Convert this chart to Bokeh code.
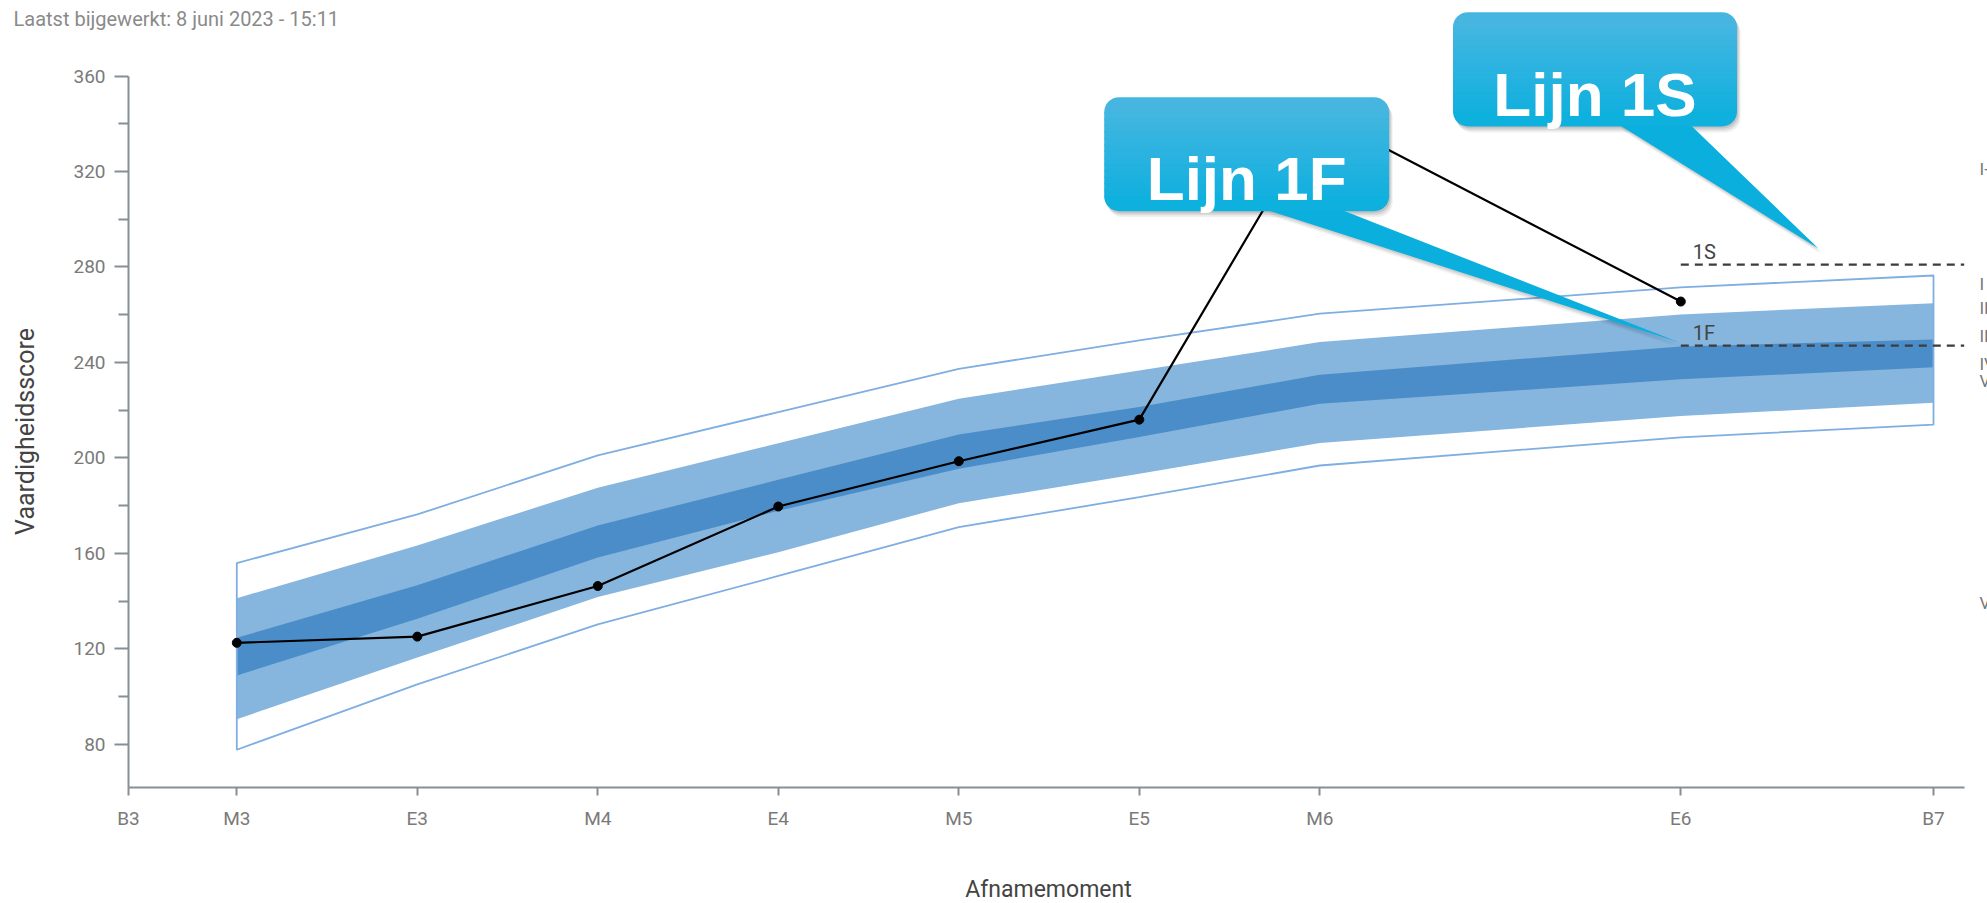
import numpy as np
from bokeh.plotting import figure
from bokeh.models import Range1d, FixedTicker, Label, BoxAnnotation, PolyAnnotation
from bokeh.core.properties import value
from bokeh.embed import file_html
from bokeh.resources import INLINE

# ---------------- data ----------------
MOMENTS = ["B3", "M3", "E3", "M4", "E4", "M5", "E5", "M6", "E6", "B7"]
MOMENT_POS = [0.0, 0.6, 1.6, 2.6, 3.6, 4.6, 5.6, 6.6, 8.6, 10.0]

BAND_MOMENTS = ["M3", "E3", "M4", "E4", "M5", "E5", "M6", "E6", "B7"]
OUTER_TOP = [155.9, 176.3, 201.0, 219.2, 237.3, 249.2, 260.4, 271.4, 276.4]
LIGHT_TOP = [141.2, 163.3, 187.5, 206.1, 224.8, 236.6, 248.5, 260.1, 264.8]
DARK_TOP = [124.6, 146.6, 171.7, 190.8, 209.8, 221.3, 234.8, 246.7, 249.6]
DARK_BOTTOM = [108.8, 132.6, 158.2, 177.8, 195.4, 208.7, 222.7, 232.9, 238.0]
LIGHT_BOTTOM = [90.5, 116.3, 141.7, 160.5, 181.0, 193.3, 206.2, 217.5, 223.1]
OUTER_BOTTOM = [77.7, 105.1, 130.2, 150.5, 171.0, 183.5, 196.8, 208.6, 213.9]

STUDENT_MOMENTS = ["M3", "E3", "M4", "E4", "M5", "E5", "M6", "E6"]
STUDENT_SCORES = [122.5, 125.1, 146.3, 179.6, 198.6, 216.0, 344.0, 265.5]

REF_NAMES = ["1S", "1F"]
REF_VALUES = [281.0, 247.0]
REF_START = "E6"

Y_TICKS = [80, 120, 160, 200, 240, 280, 320, 360]
Y_MINOR = [100, 140, 180, 220, 260, 300, 340]
LEVEL_LABELS = ["I+", "I", "II", "III", "IV", "V", "V-"]

TITLE = "Laatst bijgewerkt: 8 juni 2023 - 15:11"
Y_LABEL = "Vaardigheidsscore"
X_LABEL = "Afnamemoment"
CALLOUT_TEXTS = ["Lijn 1F", "Lijn 1S"]

# ---------------- layout / style ----------------
FONT = "Roboto"
FIG_W, FIG_H = 1987, 903
PXX = 180.5            # px per x unit
PXY = 2.3866           # px per y unit
X_ORIGIN_PAGE = 128.0  # page x of B3 (y axis)
Y360_PAGE = 75.5       # page y of score 360
Y_AXIS_MIN = 62.0
X_AXIS_END = 10.17

X0 = -X_ORIGIN_PAGE / PXX
X1 = (FIG_W - X_ORIGIN_PAGE) / PXX
Y1 = 360 + Y360_PAGE / PXY
Y0 = 360 - (FIG_H - Y360_PAGE) / PXY

OUTER_LINE = "#7eaee2"
LIGHT = "#86b5de"
DARK = "#4a8dc9"


def px2x(px):
    return (px - X_ORIGIN_PAGE) / PXX


def py2y(py):
    return 360 - (py - Y360_PAGE) / PXY


p = figure(width=FIG_W, height=FIG_H, x_range=Range1d(X0, X1), y_range=Range1d(Y0, Y1),
           output_backend="svg", toolbar_location=None, title=None,
           min_border_left=0, min_border_right=0, min_border_top=0, min_border_bottom=0)
p.outline_line_color = None
p.grid.visible = False
p.background_fill_color = "white"

AX_COL = "#858f95"
for ax in (p.xaxis[0], p.yaxis[0]):
    ax.axis_line_color = AX_COL
    ax.axis_line_width = 2
    ax.major_tick_line_color = AX_COL
    ax.major_tick_line_width = 2
    ax.minor_tick_line_color = AX_COL
    ax.minor_tick_line_width = 2
    ax.major_tick_in = 0
    ax.minor_tick_in = 0
    ax.major_label_text_font = FONT
    ax.major_label_text_font_size = "19px"
    ax.major_label_text_color = "#7a7a7a"

p.xaxis.ticker = FixedTicker(ticks=MOMENT_POS, minor_ticks=[])
p.xaxis.major_label_overrides = {pos: lab for pos, lab in zip(MOMENT_POS, MOMENTS)}
p.xaxis.bounds = (0, X_AXIS_END)
p.xaxis.fixed_location = Y_AXIS_MIN
p.xaxis.major_tick_out = 8
p.xaxis.major_label_standoff = 12

p.yaxis.ticker = FixedTicker(ticks=Y_TICKS, minor_ticks=Y_MINOR)
p.yaxis.bounds = (Y_AXIS_MIN, 360)
p.yaxis.fixed_location = 0
p.yaxis.major_tick_out = 14
p.yaxis.minor_tick_out = 10
p.yaxis.major_label_standoff = 9

pos_of = dict(zip(MOMENTS, MOMENT_POS))
bx = [pos_of[m] for m in BAND_MOMENTS]

# bands
p.patch(bx + bx[::-1], OUTER_TOP + OUTER_BOTTOM[::-1], fill_color="white", line_color=None)
p.varea(x=bx, y1=LIGHT_BOTTOM, y2=LIGHT_TOP, fill_color=LIGHT)
p.varea(x=bx, y1=DARK_BOTTOM, y2=DARK_TOP, fill_color=DARK)
p.patch(bx + bx[::-1], OUTER_TOP + OUTER_BOTTOM[::-1], fill_alpha=0,
        line_color=OUTER_LINE, line_width=1.8)

# reference lines 1S / 1F
for name, v in zip(REF_NAMES, REF_VALUES):
    p.line([pos_of[REF_START], X_AXIS_END], [v, v], line_dash="8 6", line_width=2.2,
           line_color="#3c3c3c")
p.text(x=[pos_of[REF_START]] * len(REF_NAMES), y=REF_VALUES, text=REF_NAMES,
       x_offset=12, y_offset=-13, text_font=value(FONT), text_font_size="20px",
       text_color="#444444", text_baseline="alphabetic", text_align="left")

# student line
sx = [pos_of[m] for m in STUDENT_MOMENTS]
p.line(sx, STUDENT_SCORES, line_color="black", line_width=2.2)
p.scatter(sx, STUDENT_SCORES, size=9, color="black")

# texts around the plot
p.add_layout(Label(x=px2x(13), y=py2y(18), text=TITLE, text_font=FONT,
                   text_font_size="20px", text_color="#8a8a8a", text_baseline="alphabetic"))
p.add_layout(Label(x=px2x(25), y=py2y(431), text=Y_LABEL, text_font=FONT, angle=np.pi / 2,
                   text_font_size="25px", text_color="#444444", text_align="center",
                   text_baseline="middle"))
p.add_layout(Label(x=px2x(1048), y=py2y(889), text=X_LABEL, text_font=FONT,
                   text_font_size="23px", text_color="#444444", text_align="center",
                   text_baseline="alphabetic"))
LEVEL_PY = [168, 283, 307, 335, 363, 380, 602]
for lab, py in zip(LEVEL_LABELS, LEVEL_PY):
    p.add_layout(Label(x=px2x(1979), y=py2y(py), text=lab, text_font=FONT,
                       text_font_size="17px", text_color="#777777", text_baseline="middle"))

# callouts
TOP_C = np.array([0x4a, 0xb7, 0xe1])
BOT_C = np.array([0x0a, 0xaf, 0xde])


def hexc(c):
    return "#%02x%02x%02x" % tuple(int(round(v)) for v in c)


def poly(pts, color, alpha=1.0, dx=0, dy=0):
    p.add_layout(PolyAnnotation(xs=[px2x(x + dx) for x, _ in pts], ys=[py2y(y + dy) for _, y in pts],
                                fill_color=color, fill_alpha=alpha, line_color=None))


def box(x0, y0, x1, y1, color, alpha=1.0, radius=0):
    p.add_layout(BoxAnnotation(left=px2x(x0), right=px2x(x1), top=py2y(y0), bottom=py2y(y1),
                               fill_color=color, fill_alpha=alpha, line_color=None,
                               border_radius=radius))


def callout(x0, y0, x1, y1, tail, text, baseline, r=15):
    for k, a in ((2, 0.10), (4, 0.09), (6, 0.06)):
        box(x0 + k * 0.6, y0 + k, x1 + k * 0.6, y1 + k, "#000000", a, radius=r)
        poly(tail, "#000000", a * 0.8, dx=k * 0.6, dy=k)
    poly(tail, hexc(BOT_C))
    lin = list(np.linspace(y0 + r, y1 - r, 14))
    edges = [y0] + lin + [y1]
    n = len(edges) - 1
    for i in range(n):
        a, b = edges[i], edges[i + 1]
        t = ((a + b) / 2 - y0) / (y1 - y0)
        c = TOP_C * (1 - t) + BOT_C * t
        if i == 0:
            rad = (r, r, 0, 0)
        elif i == n - 1:
            rad = (0, 0, r, r)
        else:
            rad = 0
        bb = b + 1.0 if i < n - 1 else b
        box(x0, a, x1, bb, hexc(c), 1.0, radius=rad)
    p.add_layout(Label(x=px2x((x0 + x1) / 2), y=py2y(baseline), text=text,
                       text_font="Liberation Sans", text_font_style="bold",
                       text_font_size="62px", text_color="white", text_align="center",
                       text_baseline="alphabetic"))


callout(1103.7, 96.7, 1388.6, 210.7,
        [(1265, 209), (1340, 209), (1679, 342)], CALLOUT_TEXTS[0], 178.3)
callout(1452.5, 11.7, 1736.5, 126.0,
        [(1618, 124), (1689.5, 124), (1818, 248)], CALLOUT_TEXTS[1], 94.3)

open("out.html", "w").write(file_html(p, INLINE))
